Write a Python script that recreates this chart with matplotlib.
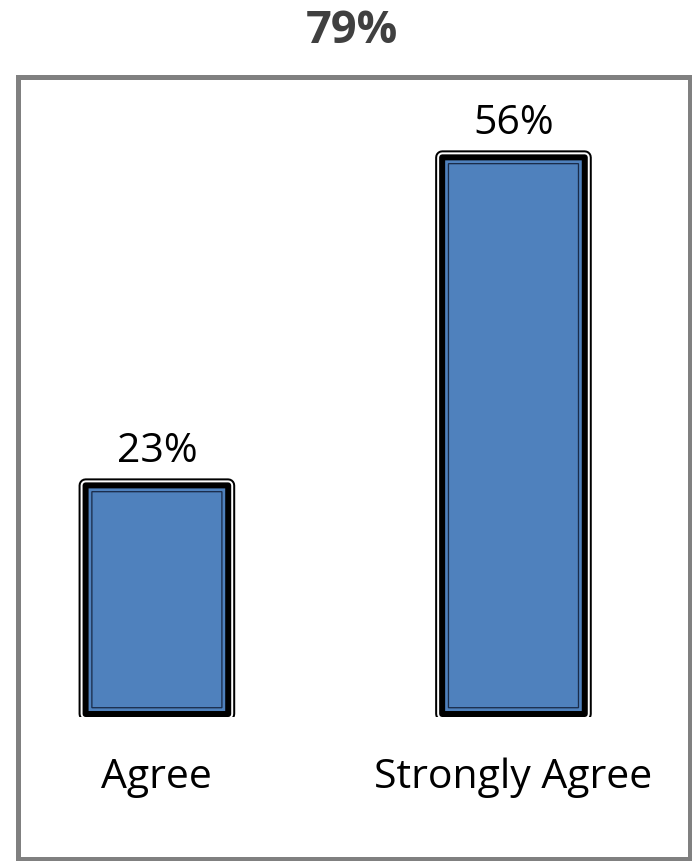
import matplotlib.pyplot as plt
import matplotlib.patheffects as pe
from matplotlib.patches import Rectangle

# datos
categorias = ['Agree', 'Strongly Agree']
valores = [23, 56]
etiquetas = ['23%', '56%']
titulo = '79%'

plt.rcParams['font.family'] = ['Open Sans', 'DejaVu Sans']

AZUL = '#4F81BD'
px = 0.72  # 1 px en puntos (dpi 100)

fig = plt.figure(figsize=(6.92, 8.62), dpi=100)

# marco gris
fig.patches.append(Rectangle((0.0253, 0.0023), 0.9711, 0.9067, transform=fig.transFigure,
                             fill=False, edgecolor='#808080', linewidth=5 * px, zorder=0))

fig.text(0.509, 0.9501, titulo, ha='center', va='baseline', fontsize=32.5,
         fontweight='bold', color='#404040')

ax = fig.add_axes([0, 144.5 / 862, 1, 717.5 / 862])
ax.set_facecolor('none')
x = range(len(categorias))
ancho = 0.4
barras = ax.bar(x, valores, width=ancho, color=AZUL, edgecolor='black',
                linewidth=6 * px, joinstyle='round')
for b in barras:
    b.set_snap(False)
    b.set_path_effects([pe.Stroke(linewidth=14 * px, foreground='black', joinstyle='round'),
                        pe.Stroke(linewidth=10 * px, foreground='white', joinstyle='round'),
                        pe.Normal()])

# linea interior
dx = 6.3 / 356.5
dy = 6.3 / 9.94
for xi, v in zip(x, valores):
    r = Rectangle((xi - ancho / 2 + dx, dy), ancho - 2 * dx, v - 2 * dy,
                  fill=False, edgecolor='#1A2C4A', linewidth=1.3 * px, zorder=3)
    r.set_snap(False)
    ax.add_patch(r)

ax.bar_label(barras, labels=etiquetas, padding=10, fontsize=29.5, color='black')

ax.set_xlim(-0.440, 1.5007)
ax.set_ylim(-0.25, 71.93)
ax.set_xticks(list(x))
ax.set_xticklabels(categorias, fontsize=29.5)
ax.tick_params(axis='x', length=0, pad=29)
ax.set_yticks([])
for s in ax.spines.values():
    s.set_visible(False)

plt.savefig('out.png', dpi=100)
